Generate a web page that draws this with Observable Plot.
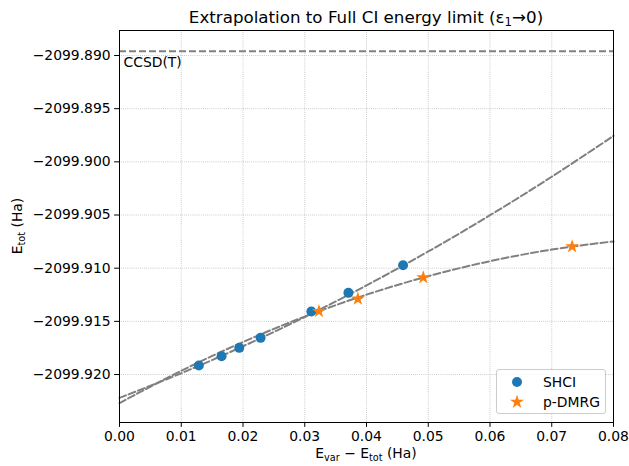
<!DOCTYPE html>
<html>
<head>
<meta charset="utf-8">
<script src="https://cdn.jsdelivr.net/npm/d3@7"></script>
<script src="https://cdn.jsdelivr.net/npm/@observablehq/plot@0.6"></script>
<style>
  html, body { margin: 0; padding: 0; background: #fff; }
  #wrap { position: relative; width: 629px; height: 466px; font-family: "DejaVu Sans", sans-serif; }
  #legend { position: absolute; left: 496px; top: 369px; width: 110px; height: 45px;
    border: 1px solid #cccccc; border-radius: 3px; background: rgba(255,255,255,0.8); box-sizing: border-box; }
  .lg-row { position: absolute; left: 0; font-size: 13.9px; color: #000; white-space: nowrap; }
</style>
</head>
<body>
<div id="wrap"></div>
<script>
// ---- data ----
const xTicks = [0.00, 0.01, 0.02, 0.03, 0.04, 0.05, 0.06, 0.07, 0.08];
const yTicks = [-2099.920, -2099.915, -2099.910, -2099.905, -2099.900, -2099.895, -2099.890];

const shciX = [0.01285, 0.01653, 0.0194, 0.02285, 0.03107, 0.03707, 0.04592];
const shciY = [-2099.91915, -2099.91828, -2099.91749, -2099.91655, -2099.91408, -2099.91232, -2099.90972];

const dmrgX = [0.0323, 0.0386, 0.0492, 0.0733];
const dmrgY = [-2099.91405, -2099.91288, -2099.91088, -2099.90796];

const fitX = [0.00, 0.01, 0.02, 0.03, 0.04, 0.05, 0.06, 0.07, 0.08];
const shciFitY = [-2099.92220, -2099.91988, -2099.91734, -2099.91459, -2099.91162, -2099.90843, -2099.90502, -2099.90140, -2099.89756];
const dmrgFitY = [-2099.92268, -2099.91965, -2099.91694, -2099.91455, -2099.91249, -2099.91075, -2099.90934, -2099.90825, -2099.90748];

const ccsdT = -2099.8896;
const ccsdLabel = "CCSD(T)";

const seriesNames = ["SHCI", "p-DMRG"];
const seriesColors = ["#1f77b4", "#ff7f0e"];

// ---- tables ----
const shci = shciX.map((x, i) => ({x, y: shciY[i]}));
const dmrg = dmrgX.map((x, i) => ({x, y: dmrgY[i]}));
const shciFit = fitX.map((x, i) => ({x, y: shciFitY[i]}));
const dmrgFit = fitX.map((x, i) => ({x, y: dmrgFitY[i]}));

const W = 629, H = 466;
const mL = 119, mR = 16, mT = 30, mB = 44;
const grid = {stroke: "#b0b0b0", strokeOpacity: 1, strokeWidth: 0.8, strokeDasharray: "0.8,1.3"};
const dash = {stroke: "#808080", strokeWidth: 2, strokeDasharray: "7,3"};
const starR = 4.4;

const chart = Plot.plot({
  width: W, height: H,
  marginLeft: mL, marginRight: mR, marginTop: mT, marginBottom: mB,
  style: {fontFamily: "DejaVu Sans, sans-serif", fontSize: "13.9px", color: "#000", background: "#fff"},
  x: {domain: [0, 0.08], label: null},
  y: {domain: [-2099.92451, -2099.88765], label: null},
  marks: [
    Plot.gridX(xTicks, grid),
    Plot.gridY(yTicks, grid),
    Plot.ruleY([ccsdT], dash),
    Plot.line(shciFit, {x: "x", y: "y", curve: "catmull-rom", ...dash}),
    Plot.line(dmrgFit, {x: "x", y: "y", curve: "catmull-rom", ...dash}),
    Plot.dot(shci, {x: "x", y: "y", symbol: "circle", r: 5, fill: seriesColors[0], stroke: "none"}),
    Plot.dot(dmrg, {x: "x", y: "y", symbol: "star", r: starR, fill: seriesColors[1], stroke: "none"}),
    Plot.text([ccsdT], {x: () => 0, y: d => d, text: () => ccsdLabel, textAnchor: "start", dx: 4, dy: 11, fill: "#000", fontSize: 13.9}),
    Plot.axisX({ticks: xTicks, tickFormat: d3.format(".2f"), tickSize: 4.9, tickPadding: 4, label: null, stroke: "#000", fill: "#000"}),
    Plot.axisY({ticks: yTicks, tickFormat: d3.format(".3f"), tickSize: 4.9, tickPadding: 4, label: null, stroke: "#000", fill: "#000"}),
    Plot.frame({stroke: "#000", strokeWidth: 1})
  ]
});

const wrap = document.getElementById("wrap");
wrap.appendChild(chart);

// ---- texts with subscripts ----
const svg = d3.select(chart);
const cx = mL + (W - mL - mR) / 2;
const cy = mT + (H - mT - mB) / 2;

// title
const title = svg.append("text").attr("x", cx).attr("y", 23).attr("text-anchor", "middle")
  .attr("font-size", 16.7).attr("fill", "#000").attr("font-family", "DejaVu Sans, sans-serif");
title.append("tspan").text("Extrapolation to Full CI energy limit (ε");
title.append("tspan").text("1").attr("font-size", 11.7).attr("dy", 3);
title.append("tspan").text("→0)").attr("dy", -3);

// y label
const yl = svg.append("text").attr("transform", `translate(22,${cy}) rotate(-90)`).attr("text-anchor", "middle")
  .attr("font-size", 13.9).attr("fill", "#000").attr("font-family", "DejaVu Sans, sans-serif");
yl.append("tspan").text("E");
yl.append("tspan").text("tot").attr("font-size", 9.7).attr("dy", 3);
yl.append("tspan").text(" (Ha)").attr("dy", -3);

// x label
const xl = svg.append("text").attr("x", cx).attr("y", 458).attr("text-anchor", "middle")
  .attr("font-size", 13.9).attr("fill", "#000").attr("font-family", "DejaVu Sans, sans-serif");
xl.append("tspan").text("E");
xl.append("tspan").text("var").attr("font-size", 9.7).attr("dy", 3);
xl.append("tspan").text(" − E").attr("dy", -3);
xl.append("tspan").text("tot").attr("font-size", 9.7).attr("dy", 3);
xl.append("tspan").text(" (Ha)").attr("dy", -3);

// ---- legend ----
const legend = document.createElement("div");
legend.id = "legend";
seriesNames.forEach((name, i) => {
  const row = document.createElement("div");
  row.className = "lg-row";
  row.style.top = (3 + i * 20) + "px";
  const s = d3.create("svg").attr("width", 40).attr("height", 18).style("vertical-align", "middle");
  s.append("path")
    .attr("d", d3.symbol(i === 0 ? d3.symbolCircle : d3.symbolStar, i === 0 ? Math.PI * 5 * 5 : Math.PI * starR * starR)())
    .attr("transform", "translate(20,9)")
    .attr("fill", seriesColors[i]);
  row.appendChild(s.node());
  const sp = document.createElement("span");
  sp.textContent = name;
  sp.style.verticalAlign = "middle";
  sp.style.marginLeft = "6px";
  row.appendChild(sp);
  legend.appendChild(row);
});
wrap.appendChild(legend);
</script>
</body>
</html>
